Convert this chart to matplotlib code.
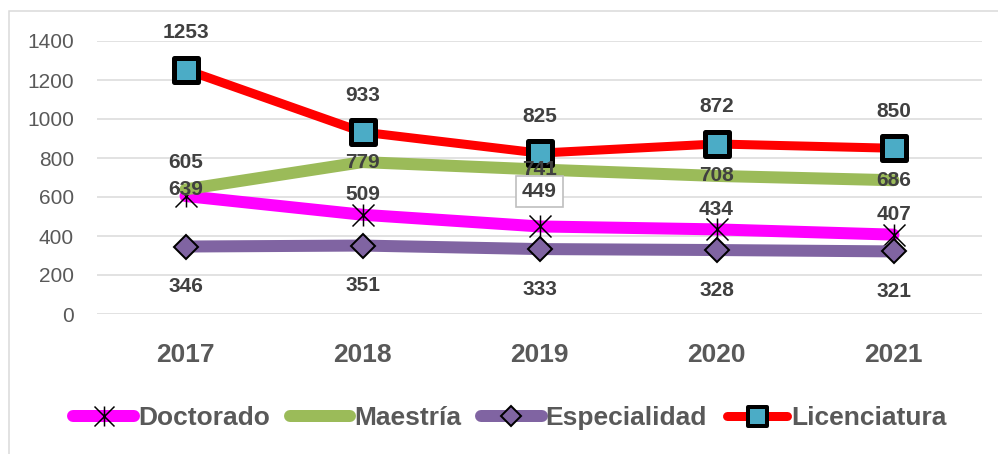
import matplotlib
matplotlib.use("Agg")
import matplotlib.pyplot as plt
from matplotlib.path import Path
from matplotlib.markers import MarkerStyle
from matplotlib.lines import Line2D
from matplotlib.patches import Rectangle

plt.rcParams['font.family'] = ['Liberation Sans', 'DejaVu Sans']

years = ['2017', '2018', '2019', '2020', '2021']
doctorado = [605, 509, 449, 434, 407]
maestria = [639, 779, 741, 708, 686]
especialidad = [346, 351, 333, 328, 321]
licenciatura = [1253, 933, 825, 872, 850]

PX = 0.72  # points per pixel at dpi 100
label_color = '#404040'
text_gray = '#595959'

# asterisk-like marker: X with a vertical bar
star_path = Path([(-1, -1), (1, 1), (-1, 1), (1, -1), (0, -1), (0, 1)],
                 [Path.MOVETO, Path.LINETO, Path.MOVETO, Path.LINETO,
                  Path.MOVETO, Path.LINETO])
sq_marker = MarkerStyle('s', joinstyle='round')

fig = plt.figure(figsize=(9.98, 4.54), dpi=100)
ax = fig.add_axes([97 / 998, 1 - 314 / 454, (982 - 97) / 998, (314 - 41) / 454])

x = list(range(len(years)))

ax.plot(x, doctorado, color='#FF00FF', lw=12 * PX, solid_capstyle='round',
        marker=star_path, markersize=22 * PX, mec='black', mfc='none',
        mew=1.5 * PX, zorder=3)
ax.plot(x, maestria, color='#9BBB59', lw=12 * PX, solid_capstyle='round', zorder=3)
ax.plot(x, especialidad, color='#8064A2', lw=12 * PX, solid_capstyle='round',
        marker='D', markersize=17 * PX, mec='black', mfc='#8064A2',
        mew=2 * PX, zorder=3)
ax.plot(x, licenciatura, color='#FF0000', lw=9 * PX, solid_capstyle='round',
        marker=sq_marker, markersize=24 * PX, mec='black', mfc='#4BACC6',
        mew=5 * PX, zorder=4)

lab_kw = dict(textcoords='offset points', ha='center', va='center',
              fontsize=15, fontweight='bold', color=label_color, zorder=6)
for i, v in enumerate(licenciatura):
    ax.annotate(str(v), (i, v), xytext=(0, 37 * PX), **lab_kw)
for i, v in enumerate(especialidad):
    ax.annotate(str(v), (i, v), xytext=(0, -40 * PX), **lab_kw)
for i, v in enumerate(maestria):
    ax.annotate(str(v), (i, v), xytext=(0, 0), **lab_kw)
doc_shift = {0: 34, 2: 35}
for i, v in enumerate(doctorado):
    kw = dict(lab_kw)
    if i == 2:
        kw['bbox'] = dict(boxstyle='square,pad=0.3', fc='white', ec='#BFBFBF', lw=1.2)
    ax.annotate(str(v), (i, v), xytext=(0, doc_shift.get(i, 20) * PX), **kw)

ax.set_xlim(-0.5, len(years) - 0.5)
ax.set_ylim(0, 1400)
ax.set_yticks(range(0, 1401, 200))
ax.set_xticks(x)
ax.set_xticklabels(years, fontsize=19, fontweight='bold', color=text_gray)
ax.tick_params(axis='x', length=0, pad=29 * PX)
ax.tick_params(axis='y', length=0, pad=23 * PX, labelsize=15, labelcolor=text_gray)
ax.grid(axis='y', color='#D9D9D9', lw=1.5 * PX)
ax.set_axisbelow(True)
for s in ax.spines.values():
    s.set_visible(False)

# legend
handles = [
    Line2D([], [], color='#FF00FF', lw=12 * PX, solid_capstyle='round',
           marker=star_path, markersize=20 * PX, mec='black', mfc='none', mew=1.5 * PX),
    Line2D([], [], color='#9BBB59', lw=12 * PX, solid_capstyle='round'),
    Line2D([], [], color='#8064A2', lw=12 * PX, solid_capstyle='round',
           marker='D', markersize=14 * PX, mec='black', mfc='#8064A2', mew=2 * PX),
    Line2D([], [], color='#FF0000', lw=9 * PX, solid_capstyle='round',
           marker=sq_marker, markersize=19 * PX, mec='black', mfc='#4BACC6', mew=4 * PX),
]
names = ['Doctorado', 'Maestría', 'Especialidad', 'Licenciatura']
leg = fig.legend(handles, names, loc='center', bbox_to_anchor=(510 / 998, 1 - 418 / 454),
                 ncol=4, frameon=False, handlelength=2.3, handletextpad=0.15,
                 columnspacing=0.75, prop=dict(size=19, weight='bold'))
for t in leg.get_texts():
    t.set_color(text_gray)

# chart border (extends past the right and bottom edges)
fig.add_artist(Rectangle((9 / 998, -0.2), 1.5, 1.2 - 11 / 454,
                         transform=fig.transFigure, fill=False, ec='#D9D9D9', lw=1.5 * PX))

fig.savefig('out.png', dpi=100)
